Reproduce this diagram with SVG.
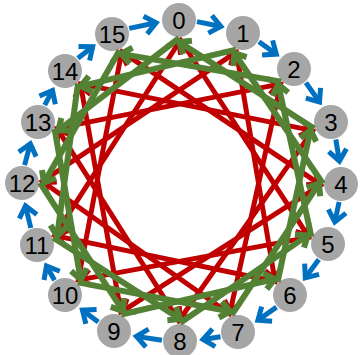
<svg xmlns="http://www.w3.org/2000/svg" width="363" height="355" viewBox="0 0 363 355">
<style>
.nd{fill:#A6A6A6}
.lb{font-family:"Liberation Sans",Arial,sans-serif;font-size:24px;fill:#000;text-anchor:middle}
.r{stroke:#C00000;stroke-width:5;fill:none;marker-end:url(#mr)}
.g{stroke:#548235;stroke-width:6;fill:none;marker-end:url(#mg)}
.b{stroke:#0070C0;stroke-width:5;fill:none;marker-end:url(#mb)}
</style>
<defs>
<marker id="mr" markerUnits="userSpaceOnUse" viewBox="-15 -15 30 30" markerWidth="30" markerHeight="30" refX="0" refY="0" orient="auto" overflow="visible"><path d="M-10,-8 L0,0 L-10,8" fill="none" stroke="#C00000" stroke-width="5"/></marker>
<marker id="mg" markerUnits="userSpaceOnUse" viewBox="-15 -15 30 30" markerWidth="30" markerHeight="30" refX="0" refY="0" orient="auto" overflow="visible"><path d="M-10,-8 L0,0 L-10,8" fill="none" stroke="#548235" stroke-width="6"/></marker>
<marker id="mb" markerUnits="userSpaceOnUse" viewBox="-15 -15 30 30" markerWidth="30" markerHeight="30" refX="0" refY="0" orient="auto" overflow="visible"><path d="M-11,-9 L0,0 L-11,9" fill="none" stroke="#0070C0" stroke-width="5"/></marker>
</defs>
<g id="n0"><circle class="nd" cx="179" cy="20" r="17"/><text class="lb" x="179" y="28.5">0</text></g>
<g id="n1"><circle class="nd" cx="243" cy="33" r="17"/><text class="lb" x="243" y="41.5">1</text></g>
<g id="n2"><circle class="nd" cx="294" cy="69" r="17"/><text class="lb" x="294" y="77.5">2</text></g>
<g id="n3"><circle class="nd" cx="331" cy="122" r="17"/><text class="lb" x="331" y="130.5">3</text></g>
<g id="n4"><circle class="nd" cx="341" cy="184" r="17"/><text class="lb" x="341" y="192.5">4</text></g>
<g id="n5"><circle class="nd" cx="328" cy="244" r="17"/><text class="lb" x="328" y="252.5">5</text></g>
<g id="n6"><circle class="nd" cx="290" cy="295" r="17"/><text class="lb" x="290" y="303.5">6</text></g>
<g id="n7"><circle class="nd" cx="238" cy="332" r="17"/><text class="lb" x="238" y="340.5">7</text></g>
<g id="n8"><circle class="nd" cx="180" cy="341" r="17"/><text class="lb" x="180" y="349.5">8</text></g>
<g id="n9"><circle class="nd" cx="114" cy="331" r="17"/><text class="lb" x="114" y="339.5">9</text></g>
<g id="n10"><circle class="nd" cx="65" cy="295" r="17"/><text class="lb" x="65" y="303.5">10</text></g>
<g id="n11"><circle class="nd" cx="37" cy="245" r="17"/><text class="lb" x="37" y="253.5">11</text></g>
<g id="n12"><circle class="nd" cx="22" cy="183" r="17"/><text class="lb" x="22" y="191.5">12</text></g>
<g id="n13"><circle class="nd" cx="38" cy="122" r="17"/><text class="lb" x="38" y="130.5">13</text></g>
<g id="n14"><circle class="nd" cx="65" cy="71" r="17"/><text class="lb" x="65" y="79.5">14</text></g>
<g id="n15"><circle class="nd" cx="112" cy="34" r="17"/><text class="lb" x="112" y="42.5">15</text></g>
<g id="connectors">
<g id="red">
<line class="r" x1="179.2" y1="38.0" x2="307.7" y2="235.4"/>
<line class="r" x1="236.0" y1="49.6" x2="274.7" y2="279.1"/>
<line class="r" x1="281.2" y1="81.6" x2="230.2" y2="311.5"/>
<line class="r" x1="314.2" y1="128.6" x2="180.1" y2="319"/>
<line class="r" x1="323.0" y1="183.7" x2="122.9" y2="310.9"/>
<line class="r" x1="311.4" y1="236.9" x2="80.7" y2="279.6"/>
<line class="r" x1="277.5" y1="282.0" x2="57.1" y2="236.1"/>
<line class="r" x1="231.6" y1="315.2" x2="44.0" y2="182.7"/>
<line class="r" x1="180.1" y1="323" x2="58.3" y2="130.4"/>
<line class="r" x1="121.3" y1="314.5" x2="80.9" y2="86.2"/>
<line class="r" x1="77.8" y1="282.4" x2="121.3" y2="53.9"/>
<line class="r" x1="53.4" y1="237.7" x2="179.2" y2="42.0"/>
<line class="r" x1="40.0" y1="182.8" x2="234.4" y2="53.3"/>
<line class="r" x1="54.6" y1="128.9" x2="278.3" y2="84.4"/>
<line class="r" x1="78.0" y1="83.4" x2="310.5" y2="130.1"/>
<line class="r" x1="119.6" y1="50.3" x2="319.0" y2="183.6"/>
</g>
<g id="green">
<line class="g" x1="179.2" y1="38.0" x2="58.3" y2="130.4"/>
<line class="g" x1="236.0" y1="49.6" x2="80.9" y2="86.2"/>
<line class="g" x1="281.2" y1="81.6" x2="121.3" y2="53.9"/>
<line class="g" x1="314.2" y1="128.6" x2="179.2" y2="42.0"/>
<line class="g" x1="323.0" y1="183.7" x2="234.4" y2="53.3"/>
<line class="g" x1="311.4" y1="236.9" x2="278.3" y2="84.4"/>
<line class="g" x1="277.5" y1="282.0" x2="310.5" y2="130.1"/>
<line class="g" x1="231.6" y1="315.2" x2="319.0" y2="183.6"/>
<line class="g" x1="180.1" y1="323" x2="307.7" y2="235.4"/>
<line class="g" x1="121.3" y1="314.5" x2="274.7" y2="279.1"/>
<line class="g" x1="77.8" y1="282.4" x2="230.2" y2="311.5"/>
<line class="g" x1="53.4" y1="237.7" x2="180.1" y2="319"/>
<line class="g" x1="40.0" y1="182.8" x2="122.9" y2="310.9"/>
<line class="g" x1="54.6" y1="128.9" x2="80.7" y2="279.6"/>
<line class="g" x1="78.0" y1="83.4" x2="57.1" y2="236.1"/>
<line class="g" x1="119.6" y1="50.3" x2="44.0" y2="182.7"/>
</g>
<g id="blue">
<line class="b" x1="197.0" y1="21.6" x2="220.9" y2="26.5"/>
<line class="b" x1="258.9" y1="41.7" x2="276.3" y2="54.1"/>
<line class="b" x1="305.9" y1="82.6" x2="319.5" y2="102.0"/>
<line class="b" x1="335.8" y1="139.5" x2="339.4" y2="161.0"/>
<line class="b" x1="339.1" y1="202.0" x2="334.8" y2="222.0"/>
<line class="b" x1="318.8" y1="259.6" x2="305.3" y2="277.8"/>
<line class="b" x1="276.5" y1="307.1" x2="257.9" y2="320.3"/>
<line class="b" x1="220.5" y1="336.7" x2="203.0" y2="339.5"/>
<line class="b" x1="161.9" y1="340.3" x2="136.4" y2="336.4"/>
<line class="b" x1="98.3" y1="322.0" x2="82.4" y2="310.2"/>
<line class="b" x1="54.5" y1="280.3" x2="46.5" y2="266.0"/>
<line class="b" x1="30.8" y1="228.0" x2="25.5" y2="205.8"/>
<line class="b" x1="24.6" y1="165.1" x2="30.3" y2="143.7"/>
<line class="b" x1="44.7" y1="105.2" x2="52.5" y2="90.4"/>
<line class="b" x1="77.9" y1="58.3" x2="92.7" y2="46.7"/>
<line class="b" x1="129.2" y1="28.4" x2="156.1" y2="22.8"/>
</g>
</g>
</svg>
